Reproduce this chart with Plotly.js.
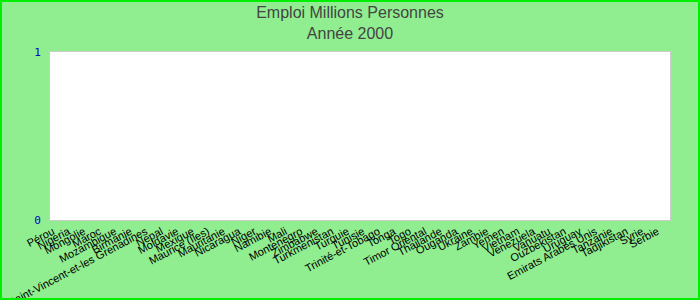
<!DOCTYPE html>
<html>
<head>
<meta charset="utf-8">
<script src="https://cdn.plot.ly/plotly-3.0.1.min.js"></script>
<style>
html,body{margin:0;padding:0;background:#90EE90;}
#wrap{position:relative;width:700px;height:300px;}
#chart{width:700px;height:300px;}
#frame{position:absolute;left:0;top:0;width:700px;height:300px;box-sizing:border-box;border:2px solid #00EE00;pointer-events:none;}
</style>
</head>
<body>
<div id="wrap"><div id="chart"></div><div id="frame"></div></div>
<script>
const countries = ["Pérou","Nigeria","Mongolie","Maroc","Mozambique","Birmanie","Saint-Vincent-et-les Grenadines","Nepal","Moldavie","Mexique","Maurice (Iles)","Mauritanie","Nicaragua","Niger","Namibie","Mali","Montenegro","Zimbabwe","Turkmenistan","Turquie","Tunisie","Trinité-et-Tobago","Tonga","Togo","Timor Oriental","Thailande","Ouganda","Ukraine","Zambie","Yemen","Vietnam","Venezuela","Vanuatu","Ouzbekistan","Uruguay","Emirats Arabes Unis","Tanzanie","Tadjikistan","Syrie","Serbie"];
const employment2000 = [0,0,0,0,0,0,0,0,0,0,0,0,0,0,0,0,0,0,0,0,0,0,0,0,0,0,0,0,0,0,0,0,0,0,0,0,0,0,0,0];
const yTicks = [0,1];

Plotly.newPlot('chart', [{
  type: 'bar',
  x: countries,
  y: employment2000,
  marker: {color: '#4a7ebb'},
  hoverinfo: 'x+y'
}], {
  width: 700, height: 300,
  paper_bgcolor: '#90EE90',
  plot_bgcolor: '#ffffff',
  margin: {l: 50, r: 30, t: 52, b: 80},
  title: {
    text: 'Emploi Millions Personnes<br>Année 2000',
    x: 0.5, xanchor: 'center', yref: 'container', y: 0.94, yanchor: 'top',
    font: {family: 'Liberation Sans, Arial, sans-serif', size: 16, color: '#444444'}
  },
  showlegend: false,
  xaxis: {
    type: 'category', tickangle: -28, ticklabelshift: -5,
    tickfont: {family: 'Liberation Sans, Arial, sans-serif', size: 11, color: '#000000'},
    showline: true, linecolor: '#cccccc', mirror: true, showgrid: false, ticks: '', automargin: false
  },
  yaxis: {
    range: [0, 1], tickvals: yTicks, ticktext: yTicks.map(String), ticklabelstandoff: 6,
    tickfont: {family: 'DejaVu Sans Mono, monospace', size: 11, color: '#0000CC'},
    showline: true, linecolor: '#cccccc', mirror: true, showgrid: false, zeroline: false, ticks: '', automargin: false
  }
}, {displayModeBar: false, staticPlot: true});
</script>
</body>
</html>
